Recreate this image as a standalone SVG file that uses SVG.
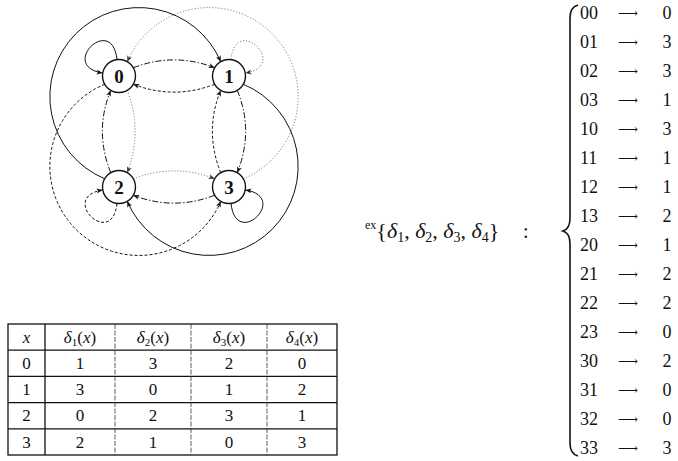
<svg xmlns="http://www.w3.org/2000/svg" width="678" height="461" viewBox="0 0 678 461" font-family="'Liberation Serif', 'Times New Roman', 'DejaVu Serif', serif">
<style>
text{font-family:'Liberation Serif','Times New Roman','DejaVu Serif',serif;fill:#111}
.node circle{fill:#fff;stroke:#111;stroke-width:1.4}
.node text{font-size:19px;text-anchor:middle;font-weight:bold}
.e{fill:none;stroke:#111;stroke-width:1}
.d1{stroke-dasharray:6 2 1.5 2}
.d2{stroke-dasharray:3 2}
.d3{stroke-dasharray:1 2;stroke:#666}
.c{text-anchor:middle}
.it{font-style:italic}
.grid{stroke:#111;stroke-width:1.3;fill:none}
.thin{stroke:#333;stroke-width:0.8;stroke-dasharray:5 1.5}
.ar{font-family:'DejaVu Serif','Liberation Serif',serif;font-size:14px}
</style>
<defs>
<marker id="ar" markerWidth="7" markerHeight="6" refX="6" refY="2.5" orient="auto" markerUnits="userSpaceOnUse">
<path d="M0,0 L6,2.5 L0,5 L1.5,2.5 z" fill="#111"/>
</marker>
<marker id="arg" markerWidth="7" markerHeight="6" refX="6" refY="2.5" orient="auto" markerUnits="userSpaceOnUse">
<path d="M0,0 L6,2.5 L0,5 L1.5,2.5 z" fill="#333"/>
</marker>
</defs>
<g id="connectors">
<path class="e d1" d="M133.3,67.75 Q174,52 214.7,67.75" marker-end="url(#ar)"/>
<path class="e d1" d="M237.25,90.3 Q254,131 237.25,172.7" marker-end="url(#ar)"/>
<path class="e d1" d="M110.75,172.7 Q94,131 110.75,90.3" marker-end="url(#ar)"/>
<path class="e d1" d="M214.7,195.25 Q174,211 133.3,195.25" marker-end="url(#ar)"/>
<path class="e d2" d="M214.7,84.25 Q174,100 133.3,84.25" marker-end="url(#ar)"/>
<path class="e d2" d="M220.75,172.7 Q204,131 220.75,90.3" marker-end="url(#ar)"/>
<path class="e d2" d="M117,203.4 C112,250 58,197 102.6,190" marker-end="url(#ar)"/>
<path class="e d2" d="M104.7,84.25 A89,89 0 1 0 220.75,201.3" marker-end="url(#ar)"/>
<path class="e d3" d="M127.25,90.3 Q143,131 127.25,172.7" marker-end="url(#arg)"/>
<path class="e d3" d="M231,59.6 C236,13 290,66 245.4,73" marker-end="url(#arg)"/>
<path class="e d3" d="M133.3,178.75 Q174,163 214.7,178.75" marker-end="url(#arg)"/>
<path class="e d3" d="M243.3,178.75 A89,89 0 1 0 127.25,61.7" marker-end="url(#arg)"/>
<path class="e" d="M117,59.6 C112,13 58,66 102.6,73" marker-end="url(#ar)"/>
<path class="e" d="M243.3,84.25 A89,89 0 1 1 127.25,201.3" marker-end="url(#ar)"/>
<path class="e" d="M104.7,178.75 A89,89 0 1 1 220.75,61.7" marker-end="url(#ar)"/>
<path class="e" d="M231,203.4 C236,250 290,197 245.4,190" marker-end="url(#ar)"/>
</g>
<g id="n0" class="node"><circle cx="119" cy="76" r="16.5"/><text x="119" y="82.5">0</text></g>
<g id="n1" class="node"><circle cx="229" cy="76" r="16.5"/><text x="229" y="82.5">1</text></g>
<g id="n2" class="node"><circle cx="119" cy="187" r="16.5"/><text x="119" y="193.5">2</text></g>
<g id="n3" class="node"><circle cx="229" cy="187" r="16.5"/><text x="229" y="193.5">3</text></g>

<g id="table" font-size="17">
<rect class="grid" x="8" y="324" width="329" height="131"/>
<line class="grid" x1="8" y1="350.2" x2="337" y2="350.2"/>
<line class="grid" x1="8" y1="376.4" x2="337" y2="376.4"/>
<line class="grid" x1="8" y1="402.6" x2="337" y2="402.6"/>
<line class="grid" x1="8" y1="428.8" x2="337" y2="428.8"/>
<line class="grid" x1="45" y1="324" x2="45" y2="455"/>
<line class="thin" x1="115" y1="324" x2="115" y2="455"/>
<line class="thin" x1="191" y1="324" x2="191" y2="455"/>
<line class="thin" x1="267" y1="324" x2="267" y2="455"/>
<text x="26.5" y="342.5" class="it c">x</text>
<text x="80" y="342.5" class="c"><tspan class="it">δ</tspan><tspan font-size="11" dy="3">1</tspan><tspan dy="-3">(</tspan><tspan class="it">x</tspan>)</text>
<text x="153" y="342.5" class="c"><tspan class="it">δ</tspan><tspan font-size="11" dy="3">2</tspan><tspan dy="-3">(</tspan><tspan class="it">x</tspan>)</text>
<text x="229" y="342.5" class="c"><tspan class="it">δ</tspan><tspan font-size="11" dy="3">3</tspan><tspan dy="-3">(</tspan><tspan class="it">x</tspan>)</text>
<text x="302" y="342.5" class="c"><tspan class="it">δ</tspan><tspan font-size="11" dy="3">4</tspan><tspan dy="-3">(</tspan><tspan class="it">x</tspan>)</text>
<text x="26.5" y="369" class="c">0</text><text x="80" y="369" class="c">1</text><text x="153" y="369" class="c">3</text><text x="229" y="369" class="c">2</text><text x="302" y="369" class="c">0</text>
<text x="26.5" y="395" class="c">1</text><text x="80" y="395" class="c">3</text><text x="153" y="395" class="c">0</text><text x="229" y="395" class="c">1</text><text x="302" y="395" class="c">2</text>
<text x="26.5" y="421" class="c">2</text><text x="80" y="421" class="c">0</text><text x="153" y="421" class="c">2</text><text x="229" y="421" class="c">3</text><text x="302" y="421" class="c">1</text>
<text x="26.5" y="447.5" class="c">3</text><text x="80" y="447.5" class="c">2</text><text x="153" y="447.5" class="c">1</text><text x="229" y="447.5" class="c">0</text><text x="302" y="447.5" class="c">3</text>
</g>

<g id="label">
<text x="365" y="238" font-size="22"><tspan font-size="12" dy="-9">ex</tspan><tspan dy="9">{</tspan><tspan class="it">δ</tspan><tspan font-size="14" dy="4">1</tspan><tspan dy="-4">, </tspan><tspan class="it">δ</tspan><tspan font-size="14" dy="4">2</tspan><tspan dy="-4">, </tspan><tspan class="it">δ</tspan><tspan font-size="14" dy="4">3</tspan><tspan dy="-4">, </tspan><tspan class="it">δ</tspan><tspan font-size="14" dy="4">4</tspan><tspan dy="-4">}</tspan></text>
<text x="523" y="238" font-size="20">:</text>
</g>

<g id="mapping" font-size="18">
<path d="M578,5 Q570,7 570,18 L570,218 Q570,229 563,231 Q570,233 570,244 L570,443 Q570,454 578,456" fill="none" stroke="#111" stroke-width="1.6"/>
<text x="580" y="18.5">00</text><text x="628" y="17.5" class="c ar">⟶</text><text x="667" y="18.5" class="c">0</text>
<text x="580" y="47.5">01</text><text x="628" y="46.5" class="c ar">⟶</text><text x="667" y="47.5" class="c">3</text>
<text x="580" y="76.5">02</text><text x="628" y="75.5" class="c ar">⟶</text><text x="667" y="76.5" class="c">3</text>
<text x="580" y="105.5">03</text><text x="628" y="104.5" class="c ar">⟶</text><text x="667" y="105.5" class="c">1</text>
<text x="580" y="134.5">10</text><text x="628" y="133.5" class="c ar">⟶</text><text x="667" y="134.5" class="c">3</text>
<text x="580" y="163.5">11</text><text x="628" y="162.5" class="c ar">⟶</text><text x="667" y="163.5" class="c">1</text>
<text x="580" y="192.5">12</text><text x="628" y="191.5" class="c ar">⟶</text><text x="667" y="192.5" class="c">1</text>
<text x="580" y="221.5">13</text><text x="628" y="220.5" class="c ar">⟶</text><text x="667" y="221.5" class="c">2</text>
<text x="580" y="250.5">20</text><text x="628" y="249.5" class="c ar">⟶</text><text x="667" y="250.5" class="c">1</text>
<text x="580" y="279.5">21</text><text x="628" y="278.5" class="c ar">⟶</text><text x="667" y="279.5" class="c">2</text>
<text x="580" y="308.5">22</text><text x="628" y="307.5" class="c ar">⟶</text><text x="667" y="308.5" class="c">2</text>
<text x="580" y="337.5">23</text><text x="628" y="336.5" class="c ar">⟶</text><text x="667" y="337.5" class="c">0</text>
<text x="580" y="366.5">30</text><text x="628" y="365.5" class="c ar">⟶</text><text x="667" y="366.5" class="c">2</text>
<text x="580" y="395.5">31</text><text x="628" y="394.5" class="c ar">⟶</text><text x="667" y="395.5" class="c">0</text>
<text x="580" y="424.5">32</text><text x="628" y="423.5" class="c ar">⟶</text><text x="667" y="424.5" class="c">0</text>
<text x="580" y="453.5">33</text><text x="628" y="452.5" class="c ar">⟶</text><text x="667" y="453.5" class="c">3</text>
</g>
</svg>
